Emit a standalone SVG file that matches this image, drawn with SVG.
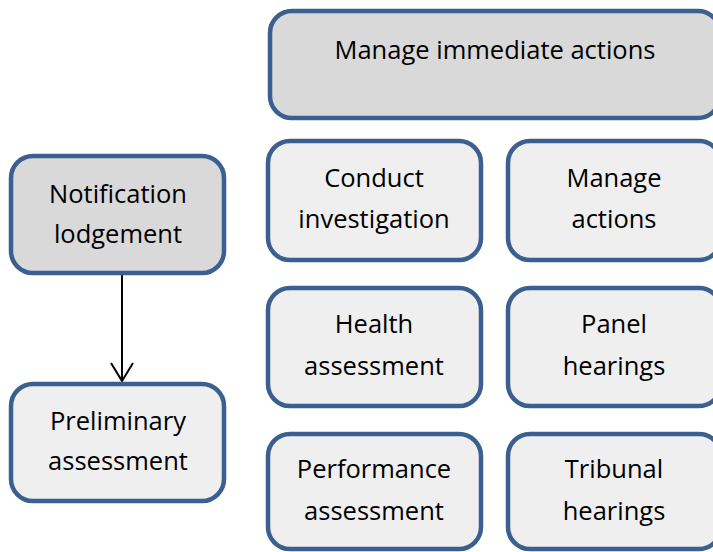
<svg xmlns="http://www.w3.org/2000/svg" width="713" height="552" viewBox="0 0 713 552">
<defs>
<style>
.box{stroke:#3B5F8E;stroke-width:4.5}
.dark{fill:#D9D9D9}
.light{fill:#EFEFEF}
.t{font-family:"Open Sans","Liberation Sans",sans-serif;font-size:25.5px;fill:#000;text-anchor:middle}
.conn{stroke:#000;stroke-width:2;fill:none}
</style>
<marker id="arr" viewBox="0 0 20 24" refX="19" refY="12" markerWidth="20" markerHeight="24" markerUnits="userSpaceOnUse" orient="auto">
<path d="M1 1 L19 12 L1 23" fill="none" stroke="#000" stroke-width="2"/>
</marker>
</defs>
<rect width="713" height="552" fill="#fff"/>
<g id="connectors">
<line class="conn" x1="122" y1="274" x2="122" y2="381" marker-end="url(#arr)"/>
</g>
<g id="manage-immediate">
<rect class="box dark" x="270" y="11" width="450" height="107" rx="22"/>
<text class="t" x="495" y="59">Manage immediate actions</text>
</g>
<g id="notification">
<rect class="box dark" x="11" y="156" width="213" height="117" rx="22"/>
<text class="t" x="118" y="203">Notification</text>
<text class="t" x="118" y="243">lodgement</text>
</g>
<g id="preliminary">
<rect class="box light" x="11" y="384" width="213" height="117" rx="22"/>
<text class="t" x="118" y="430">Preliminary</text>
<text class="t" x="118" y="470">assessment</text>
</g>
<g id="conduct">
<rect class="box light" x="268" y="141" width="213" height="119" rx="22"/>
<text class="t" x="374" y="187">Conduct</text>
<text class="t" x="374" y="228">investigation</text>
</g>
<g id="manage-actions">
<rect class="box light" x="508" y="141" width="213" height="119" rx="22"/>
<text class="t" x="614" y="187">Manage</text>
<text class="t" x="614" y="228">actions</text>
</g>
<g id="health">
<rect class="box light" x="268" y="288" width="213" height="118" rx="22"/>
<text class="t" x="374" y="333">Health</text>
<text class="t" x="374" y="375">assessment</text>
</g>
<g id="panel">
<rect class="box light" x="508" y="288" width="213" height="118" rx="22"/>
<text class="t" x="614" y="333">Panel</text>
<text class="t" x="614" y="375">hearings</text>
</g>
<g id="performance">
<rect class="box light" x="268" y="434" width="213" height="115" rx="22"/>
<text class="t" x="374" y="478">Performance</text>
<text class="t" x="374" y="520">assessment</text>
</g>
<g id="tribunal">
<rect class="box light" x="508" y="434" width="213" height="115" rx="22"/>
<text class="t" x="614" y="478">Tribunal</text>
<text class="t" x="614" y="520">hearings</text>
</g>
</svg>
